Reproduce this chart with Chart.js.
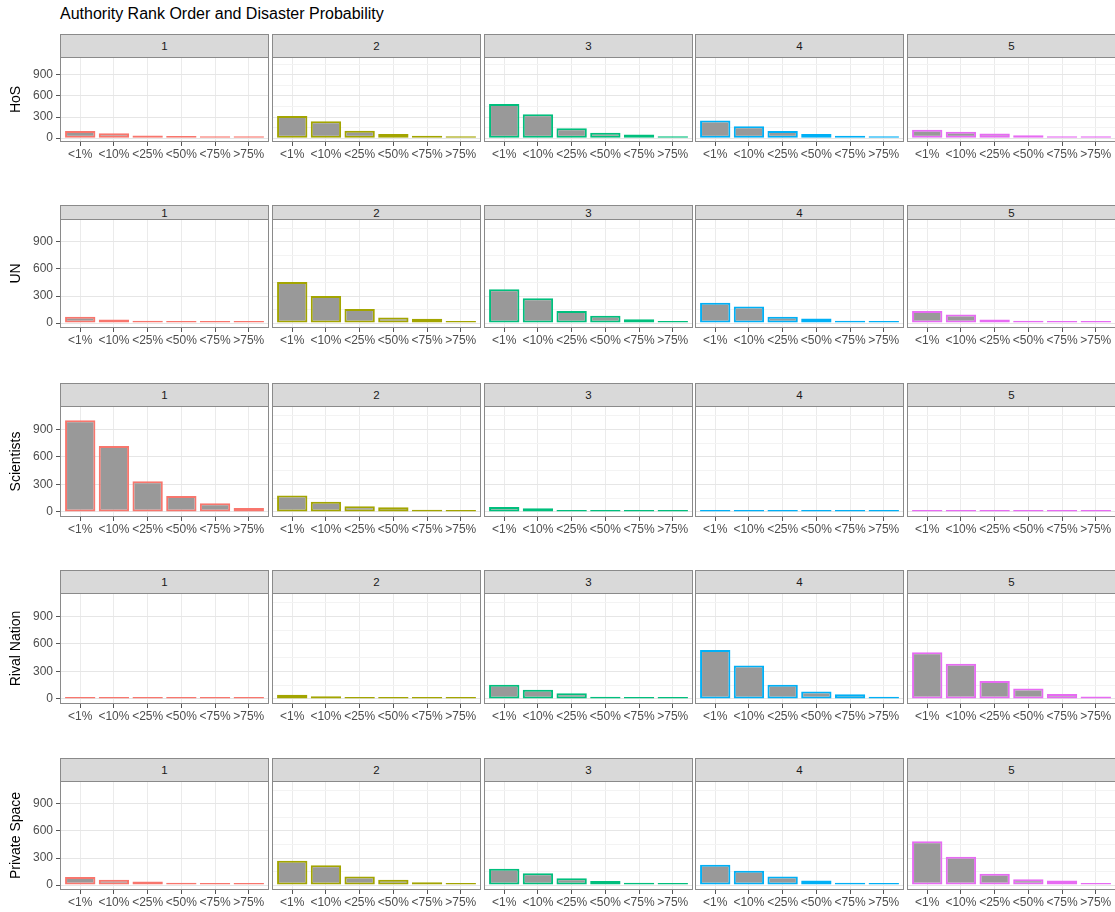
<!DOCTYPE html>
<html>
<head>
<meta charset="utf-8">
<script src="https://cdn.jsdelivr.net/npm/chart.js@4.4.1/dist/chart.umd.min.js"></script>
<style>
  body { margin: 0; background: #fff; overflow: hidden; }
  #fig { position: relative; width: 1115px; height: 912px; overflow: hidden; font-family: "Liberation Sans", Arial, sans-serif; }
  #title { position: absolute; left: 60px; top: 5px; font-size: 16px; color: #000; }
  .strip { position: absolute; box-sizing: border-box; background: #d9d9d9; border: 1px solid #8a8a8a;
           font-size: 11.5px; color: #1a1a1a; display: flex; align-items: center; justify-content: center; }
  .panel { position: absolute; }
</style>
</head>
<body>
<div id="fig">
  <div id="title">Authority Rank Order and Disaster Probability</div>
</div>
<script>
// categories
const probLabels = ["<1%", "<10%", "<25%", "<50%", "<75%", ">75%"];
const rankLabels = ["1", "2", "3", "4", "5"];
const authorities = ["HoS", "UN", "Scientists", "Rival Nation", "Private Space"];

// counts per rank (1..5), each one value per probability bucket
const hosCounts = [
  [100, 70, 38, 30, 15, 12],
  [315, 240, 105, 60, 35, 20],
  [485, 340, 140, 75, 50, 25],
  [250, 170, 100, 60, 35, 20],
  [120, 90, 65, 40, 20, 18]
];
const unCounts = [
  [70, 40, 25, 20, 12, 10],
  [455, 300, 155, 62, 48, 20],
  [375, 275, 135, 82, 42, 20],
  [225, 185, 70, 50, 25, 15],
  [135, 95, 40, 25, 10, 8]
];
const scientistsCounts = [
  [1000, 720, 335, 175, 95, 42],
  [180, 110, 62, 50, 25, 15],
  [55, 40, 20, 15, 10, 8],
  [20, 18, 12, 10, 8, 8],
  [10, 12, 8, 6, 5, 5]
];
const rivalCounts = [
  [8, 12, 5, 8, 5, 4],
  [45, 30, 18, 18, 8, 6],
  [155, 100, 62, 25, 18, 10],
  [535, 365, 155, 80, 50, 25],
  [510, 385, 195, 115, 55, 28]
];
const privateCounts = [
  [90, 60, 38, 25, 15, 12],
  [270, 220, 95, 60, 30, 20],
  [180, 130, 75, 45, 25, 15],
  [225, 160, 95, 50, 25, 18],
  [485, 315, 125, 65, 50, 15]
];
const allCounts = [hosCounts, unCounts, scientistsCounts, rivalCounts, privateCounts];

// axis ticks
const yTickLabels = [0, 300, 600, 900];
const yMinorTicks = [150, 450, 750, 1050];
const yMin = -55;
const yMax = 1155;

// layout (pixels)
const rankColors = ["#F8766D", "#A3A500", "#00BF7D", "#00B0F6", "#E76BF3"];
const rowLayout = [
  { strip: 34, top: 57, bottom: 142 },
  { strip: 205, top: 219, bottom: 328 },
  { strip: 383, top: 406, bottom: 517 },
  { strip: 570, top: 593, bottom: 704 },
  { strip: 758, top: 781, bottom: 890 }
];
const panelLeft0 = 60;
const panelStep = 211.8;
const panelW = 209;
const yAxisW = 60;
const xAxisH = 22;
const fontFamily = '"Liberation Sans", Arial, sans-serif';

const $fig = document.getElementById("fig");

const panelBorder = {
  id: "panelBorder",
  afterDraw(chart) {
    const a = chart.chartArea;
    const ctx = chart.ctx;
    ctx.save();
    ctx.strokeStyle = "#8a8a8a";
    ctx.lineWidth = 1;
    ctx.strokeRect(a.left + 0.5, a.top + 0.5, a.right - a.left - 1, a.bottom - a.top - 1);
    ctx.restore();
  }
};

function isMajor(v) {
  return yTickLabels.includes(v);
}

function makePanel(row, col) {
  const lay = rowLayout[row];
  const left = Math.round(panelLeft0 + col * panelStep);
  const extra = col === 0 ? yAxisW : 0;
  const panelH = lay.bottom - lay.top;

  // facet strip
  const strip = document.createElement("div");
  strip.className = "strip";
  strip.style.left = left + "px";
  strip.style.top = lay.strip + "px";
  strip.style.width = panelW + "px";
  strip.style.height = (lay.top - lay.strip + 1) + "px";
  strip.textContent = rankLabels[col];
  $fig.appendChild(strip);

  const box = document.createElement("div");
  box.className = "panel";
  box.style.left = (left - extra) + "px";
  box.style.top = lay.top + "px";
  const canvas = document.createElement("canvas");
  canvas.width = panelW + extra;
  canvas.height = panelH + xAxisH;
  box.appendChild(canvas);
  $fig.appendChild(box);

  const values = allCounts[row][col];
  const data = values.map((v, i) => ({ x: i + 1, y: v }));

  new Chart(canvas.getContext("2d"), {
    type: "bar",
    data: {
      datasets: [{
        data: data,
        backgroundColor: "#999999",
        borderColor: rankColors[col],
        borderWidth: 2,
        borderSkipped: false,
        barPercentage: 0.9,
        categoryPercentage: 1,
        minBarLength: 2
      }]
    },
    options: {
      responsive: false,
      animation: false,
      events: [],
      layout: { padding: 0 },
      plugins: { legend: { display: false }, tooltip: { enabled: false } },
      scales: {
        x: {
          type: "linear",
          min: 0.4,
          max: 6.6,
          offset: false,
          afterBuildTicks: ax => { ax.ticks = probLabels.map((_, i) => ({ value: i + 1 })); },
          afterFit: ax => { ax.height = xAxisH; ax.paddingLeft = 0; ax.paddingRight = 0; },
          ticks: {
            callback: v => probLabels[v - 1],
            autoSkip: false,
            maxRotation: 0,
            minRotation: 0,
            padding: 1,
            color: "#4d4d4d",
            font: { size: 12, family: fontFamily }
          },
          grid: { offset: false, color: "#ebebeb", lineWidth: 1, tickLength: 4, tickColor: "#555" },
          border: { display: false }
        },
        y: {
          min: yMin,
          max: yMax,
          afterBuildTicks: ax => {
            ax.ticks = yTickLabels.concat(yMinorTicks).sort((a, b) => a - b).map(v => ({ value: v }));
          },
          afterFit: ax => { ax.width = extra; ax.paddingTop = 0; ax.paddingBottom = 0; },
          ticks: {
            display: col === 0,
            callback: v => isMajor(v) ? String(v) : "",
            padding: 3,
            color: "#4d4d4d",
            font: { size: 12, family: fontFamily }
          },
          grid: {
            color: c => isMajor(c.tick.value) ? "#e6e6e6" : "#f3f3f3",
            lineWidth: 1,
            drawTicks: col === 0,
            tickLength: 4,
            tickColor: c => isMajor(c.tick.value) ? "#555" : "rgba(0,0,0,0)"
          },
          border: { display: false },
          title: {
            display: col === 0,
            text: authorities[row],
            color: "#000",
            font: { size: 14, family: fontFamily },
            padding: { top: 8, bottom: 0 }
          }
        }
      }
    },
    plugins: [panelBorder]
  });
}

for (let r = 0; r < authorities.length; r++) {
  for (let c = 0; c < rankLabels.length; c++) {
    makePanel(r, c);
  }
}
</script>
</body>
</html>
